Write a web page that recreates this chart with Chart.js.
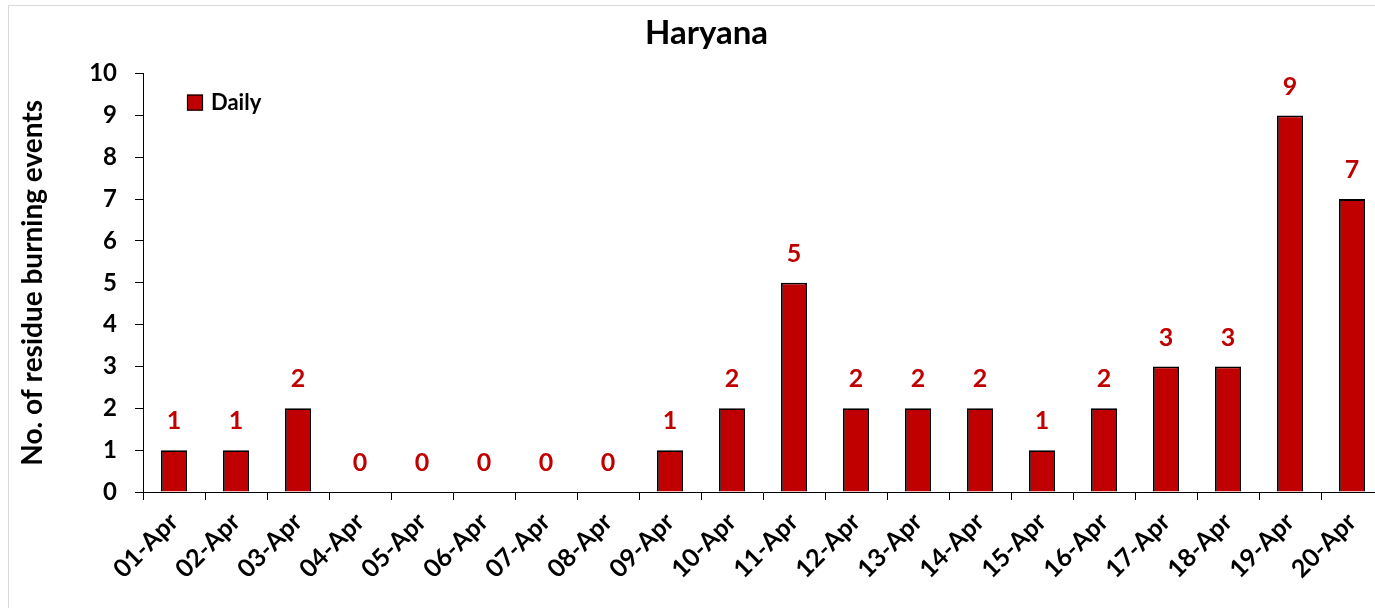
<!DOCTYPE html>
<html>
<head>
<meta charset="utf-8">
<script src="https://cdn.jsdelivr.net/npm/chart.js@4"></script>
<style>
  html, body { margin: 0; padding: 0; background: #fff; overflow: hidden; }
  #wrap { width: 1383px; height: 608px; }
</style>
</head>
<body>
<div id="wrap"><canvas id="chart"></canvas></div>
<script>
const days = ["01-Apr","02-Apr","03-Apr","04-Apr","05-Apr","06-Apr","07-Apr","08-Apr","09-Apr","10-Apr",
              "11-Apr","12-Apr","13-Apr","14-Apr","15-Apr","16-Apr","17-Apr","18-Apr","19-Apr","20-Apr"];
const daily = [1, 1, 2, 0, 0, 0, 0, 0, 1, 2, 5, 2, 2, 2, 1, 2, 3, 3, 9, 7];
const yTicks = [0, 1, 2, 3, 4, 5, 6, 7, 8, 9, 10];

const RED = "#c00000";
const FONT = "Lato, 'Open Sans', sans-serif";

// frame around the chart, like the spreadsheet chart border
const frame = {
  id: "frame",
  beforeDraw(chart) {
    const ctx = chart.ctx;
    ctx.save();
    ctx.fillStyle = "#fff";
    ctx.fillRect(0, 0, chart.width, chart.height);
    ctx.strokeStyle = "#d9d9d9";
    ctx.lineWidth = 1;
    ctx.strokeRect(8.5, 5.5, chart.width + 20, chart.height + 20);
    ctx.restore();
  }
};

// value labels above bars + legend inside plot area
const labels = {
  id: "labels",
  afterDatasetsDraw(chart) {
    const ctx = chart.ctx;
    const meta = chart.getDatasetMeta(0);
    ctx.save();
    ctx.font = "bold 25px " + FONT;
    ctx.fillStyle = RED;
    ctx.textAlign = "center";
    ctx.textBaseline = "middle";
    meta.data.forEach((bar, i) => {
      ctx.fillText(String(daily[i]), bar.x, bar.y - 29);
    });
    const a = chart.chartArea;
    const lx = a.left + 44, ly = a.top + 21;
    ctx.fillStyle = RED;
    ctx.fillRect(lx, ly, 16, 16);
    ctx.strokeStyle = "#000";
    ctx.lineWidth = 1.2;
    ctx.strokeRect(lx + 0.5, ly + 0.5, 15, 15);
    ctx.fillStyle = "#000";
    ctx.textAlign = "left";
    ctx.font = "bold 22px " + FONT;
    ctx.fillText(chart.data.datasets[0].label, lx + 24, ly + 8);
    ctx.restore();
  }
};

new Chart(document.getElementById("chart"), {
  type: "bar",
  data: {
    labels: days,
    datasets: [{
      label: "Daily",
      data: daily,
      backgroundColor: RED,
      borderColor: "#000",
      borderWidth: 1.8,
      barPercentage: 0.42,
      categoryPercentage: 1
    }]
  },
  options: {
    responsive: true,
    maintainAspectRatio: false,
    animation: false,
    layout: { padding: { top: 10, left: 30, right: 0, bottom: 0 } },
    plugins: {
      legend: { display: false },
      tooltip: { enabled: false },
      title: {
        display: true,
        text: "Haryana",
        color: "#000",
        font: { family: FONT, size: 33, weight: "bold" },
        padding: { top: 4, bottom: 20 }
      }
    },
    scales: {
      x: {
        grid: { display: true, drawOnChartArea: false, drawTicks: true, tickLength: 8, color: "#000", offset: true },
        border: { display: true, color: "#000", width: 1 },
        ticks: {
          color: "#000",
          font: { family: FONT, size: 25, weight: "bold" },
          maxRotation: 45, minRotation: 45,
          autoSkip: false,
          padding: 7
        },
        afterFit(scale) { scale.height = 116; }
      },
      y: {
        min: 0, max: 10,
        afterBuildTicks(scale) { scale.ticks = yTicks.map(v => ({ value: v })); },
        grid: { display: true, drawOnChartArea: false, drawTicks: true, tickLength: 8, color: "#000" },
        border: { display: true, color: "#000", width: 1 },
        ticks: {
          color: "#000",
          font: { family: FONT, size: 24, weight: "bold" },
          padding: 18
        },
        title: {
          display: true,
          text: "No. of residue burning events",
          color: "#000",
          font: { family: FONT, size: 28, weight: "bold" },
          padding: { top: -14, bottom: 0 }
        },
        afterFit(scale) { scale.width = 113; }
      }
    }
  },
  plugins: [frame, labels]
});
</script>
</body>
</html>
